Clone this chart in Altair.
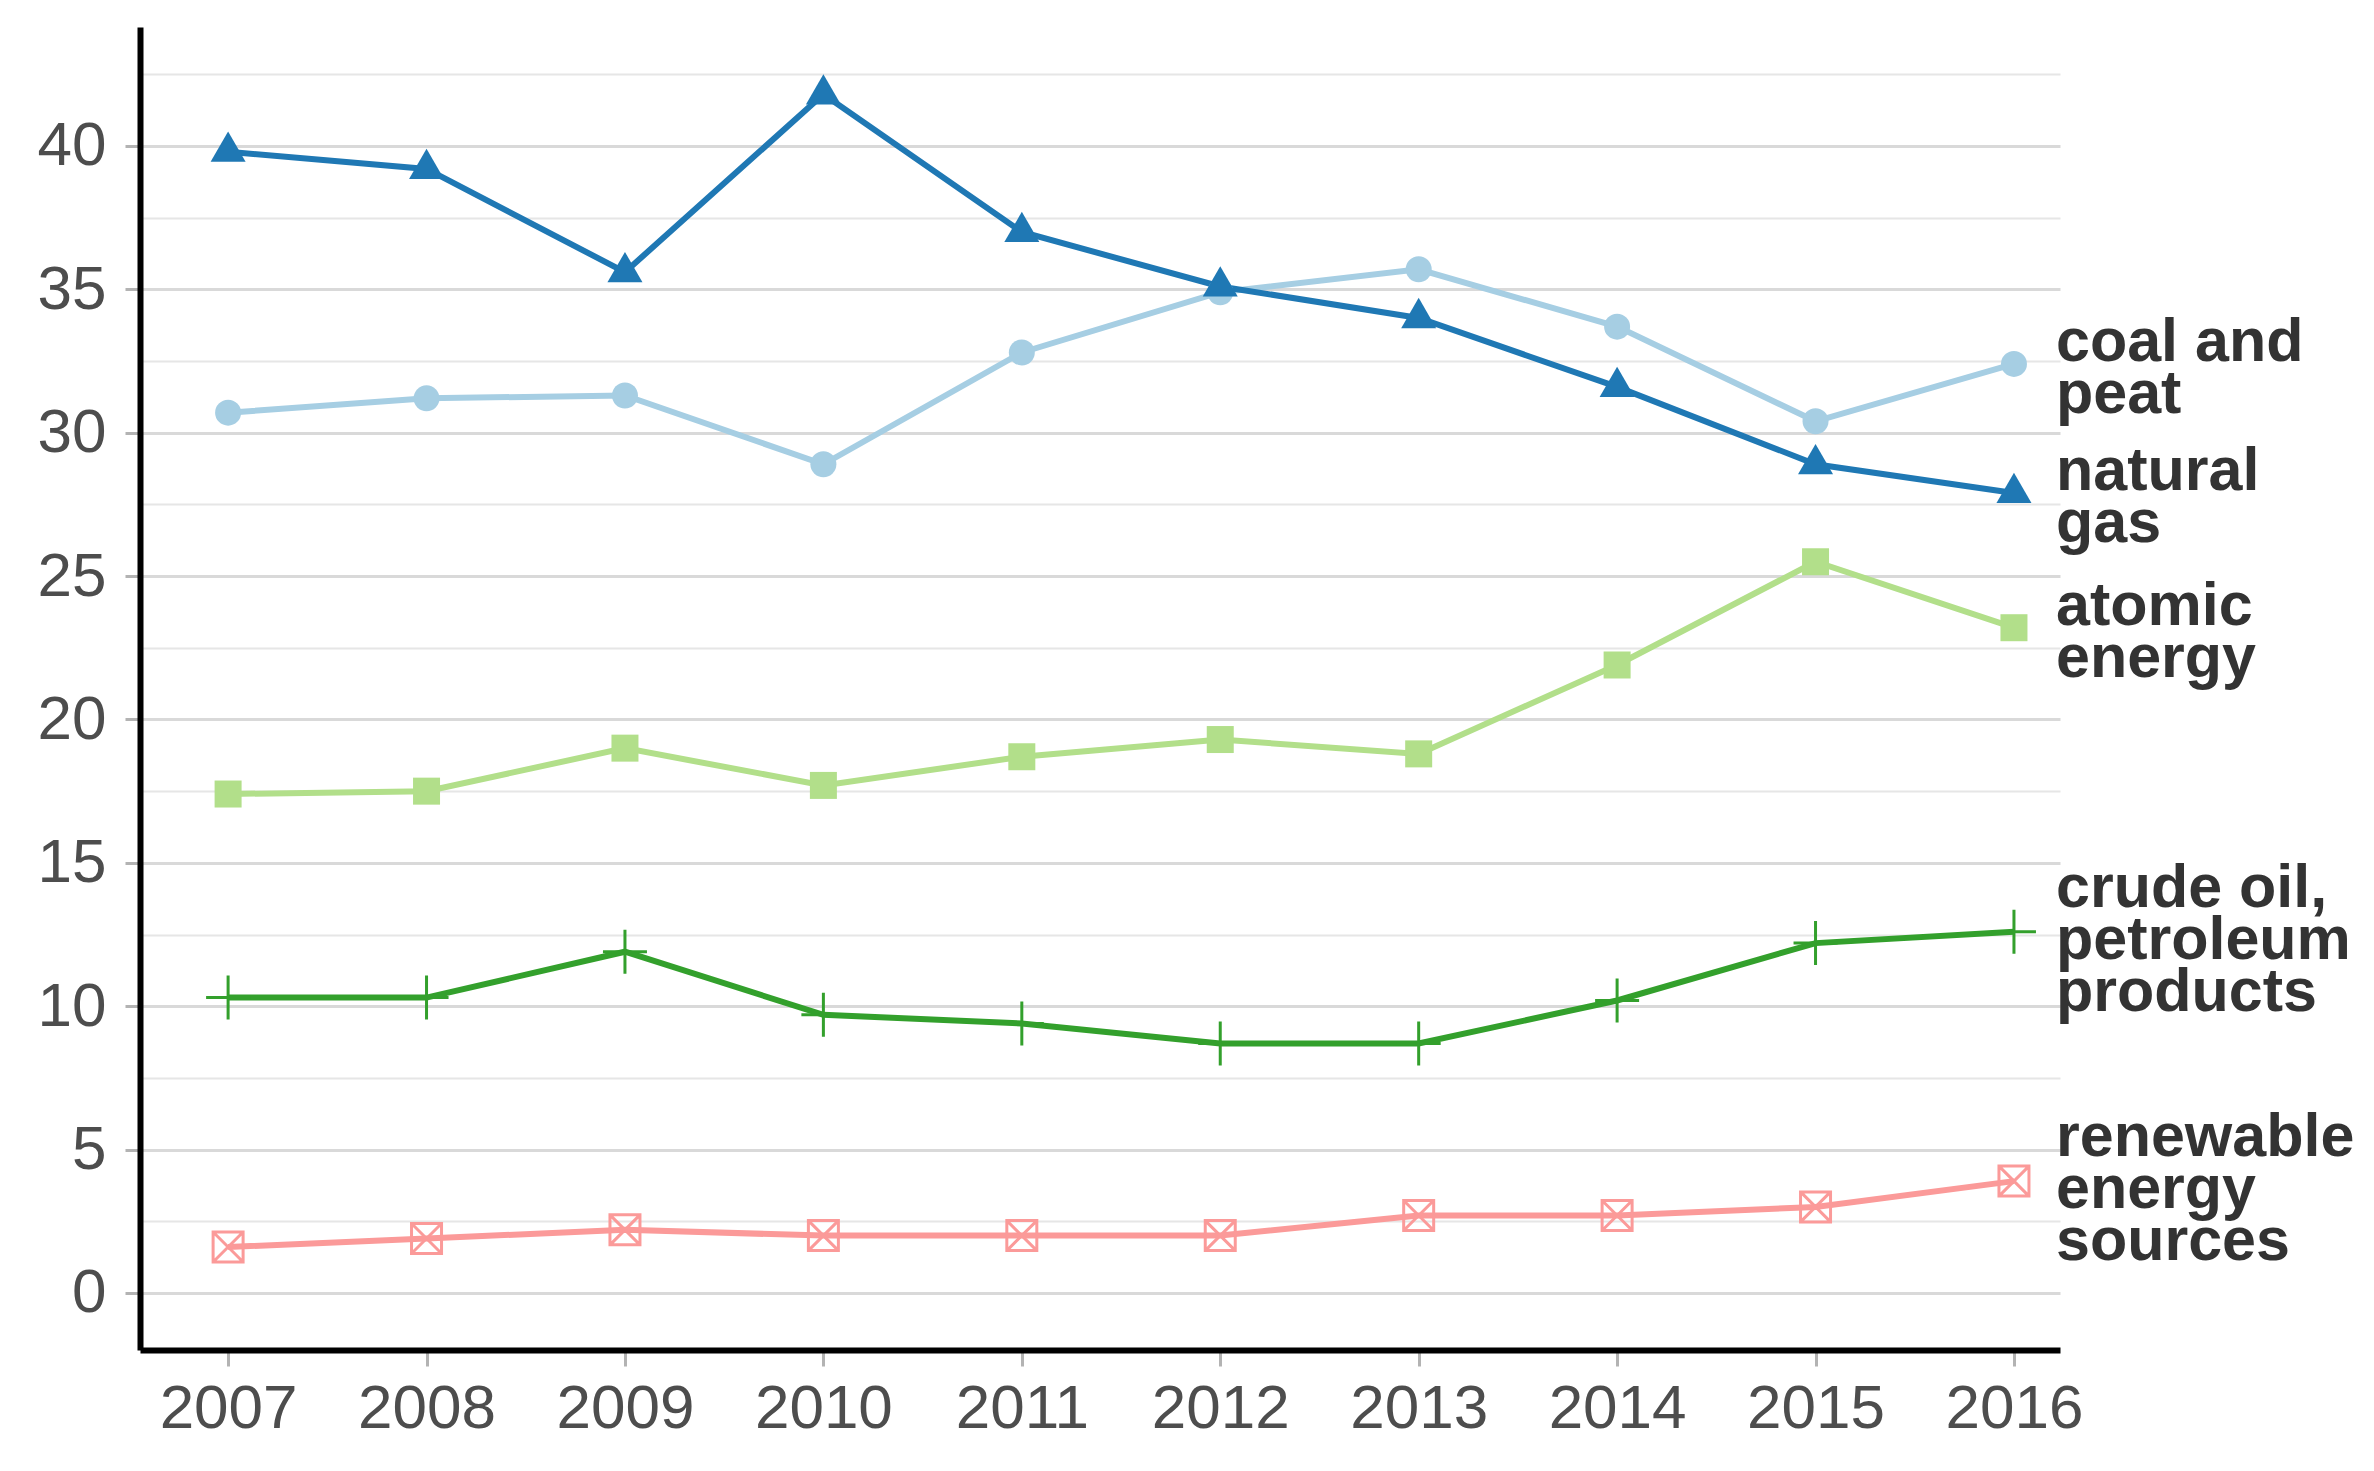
import altair as alt
import pandas as pd

years = [2007, 2008, 2009, 2010, 2011, 2012, 2013, 2014, 2015, 2016]
coal_and_peat = [30.7, 31.2, 31.3, 28.9, 32.8, 34.9, 35.7, 33.7, 30.4, 32.4]
natural_gas = [39.8, 39.2, 35.6, 41.8, 37.0, 35.1, 34.0, 31.6, 28.9, 27.9]
atomic_energy = [17.4, 17.5, 19.0, 17.7, 18.7, 19.3, 18.8, 21.9, 25.5, 23.2]
crude_oil = [10.3, 10.3, 11.9, 9.7, 9.4, 8.7, 8.7, 10.2, 12.2, 12.6]
renewable = [1.6, 1.9, 2.2, 2.0, 2.0, 2.0, 2.7, 2.7, 3.0, 3.9]

series_names = ["atomic energy", "coal and peat", "crude oil, petroleum products",
                "natural gas", "renewable energy sources"]
series_labels = ["atomic\nenergy", "coal and\npeat", "crude oil,\npetroleum\nproducts",
                 "natural\ngas", "renewable\nenergy\nsources"]
series_colors = ["#b2df8a", "#a6cee3", "#33a02c", "#1f78b4", "#fb9a99"]
series_values = [atomic_energy, coal_and_peat, crude_oil, natural_gas, renewable]

y_ticks = [0, 2.5, 5, 7.5, 10, 12.5, 15, 17.5, 20, 22.5, 25, 27.5, 30,
           32.5, 35, 37.5, 40, 42.5]

rows = []
for name, vals in zip(series_names, series_values):
    for yr, v in zip(years, vals):
        rows.append({"year": yr, "value": v, "series": name})
df = pd.DataFrame(rows)

labels_df = pd.DataFrame({
    "series": series_names,
    "label": series_labels,
    "nlines": [lab.count("\n") + 1 for lab in series_labels],
    "year": [years[-1]] * len(series_names),
    "value": [vals[-1] for vals in series_values],
})

x_scale = alt.Scale(domain=[2006.556, 2016.232], nice=False, zero=False)
y_scale = alt.Scale(domain=[-1.99, 44.15], nice=False, zero=False)
color_scale = alt.Scale(domain=series_names, range=series_colors)

x_enc = alt.X("year:Q", scale=x_scale, title=None,
              axis=alt.Axis(values=years, format="d", grid=False,
                            domainColor="black", domainWidth=6,
                            tickColor="#b3b3b3", tickWidth=3, tickSize=16,
                            labelFont="Liberation Sans", labelFontSize=62,
                            labelColor="#4d4d4d", labelPadding=12))
y_enc = alt.Y("value:Q", scale=y_scale, title=None,
              axis=alt.Axis(values=y_ticks, grid=True,
                            gridColor=alt.condition("datum.value % 5 === 0",
                                                    alt.value("#d9d9d9"), alt.value("#e6e6e6")),
                            gridWidth=alt.condition("datum.value % 5 === 0",
                                                    alt.value(3), alt.value(2)),
                            labelExpr="datum.value % 5 === 0 ? datum.label : ''",
                            tickOpacity=alt.condition("datum.value % 5 === 0",
                                                      alt.value(1), alt.value(0)),
                            domainColor="black", domainWidth=6,
                            tickColor="#b3b3b3", tickWidth=3, tickSize=15,
                            labelFont="Liberation Sans", labelFontSize=62,
                            labelColor="#4d4d4d", labelPadding=19))

base = alt.Chart(df)

lines = base.mark_line(strokeWidth=6).encode(
    x=x_enc, y=y_enc,
    color=alt.Color("series:N", scale=color_scale, legend=None),
)

filled_shapes = {"atomic energy": ("square", 729),
                 "coal and peat": ("circle", 676),
                 "natural gas": ("M0,-1.155L1,0.577L-1,0.577Z", 1225)}
open_shapes = {"crude oil, petroleum products": ("M-1,0H1M0,-1V1", 1936),
               "renewable energy sources": ("M-1,-1H1V1H-1ZM-1,-1L1,1M-1,1L1,-1", 900)}

point_layers = []
for name, (shape, size) in filled_shapes.items():
    point_layers.append(
        base.transform_filter(alt.datum.series == name).mark_point(
            shape=shape, size=size, filled=True, opacity=1, strokeWidth=0
        ).encode(x="year:Q", y="value:Q",
                 color=alt.Color("series:N", scale=color_scale, legend=None))
    )
for name, (shape, size) in open_shapes.items():
    point_layers.append(
        base.transform_filter(alt.datum.series == name).mark_point(
            shape=shape, size=size, filled=False, opacity=1, strokeWidth=3
        ).encode(x="year:Q", y="value:Q",
                 color=alt.Color("series:N", scale=color_scale, legend=None))
    )

text_layers = []
for n, dy in [(2, -21), (3, -43)]:
    text_layers.append(
        alt.Chart(labels_df).transform_filter(alt.datum.nlines == n).mark_text(
            align="left", baseline="middle", dx=42, dy=dy, lineBreak="\n", lineHeight=52,
            font="Liberation Sans", fontSize=61, fontWeight="bold", color="#333333"
        ).encode(x="year:Q", y="value:Q", text="label:N")
    )

chart = alt.layer(lines, *point_layers, *text_layers).properties(
    width=1920, height=1323,
    padding={"left": 132, "top": 19, "right": 300, "bottom": 100},
    autosize=alt.AutoSizeParams(type="none"),
).configure_view(stroke=None)

chart.save("out.html", embed_options={"renderer": "svg", "actions": False})
